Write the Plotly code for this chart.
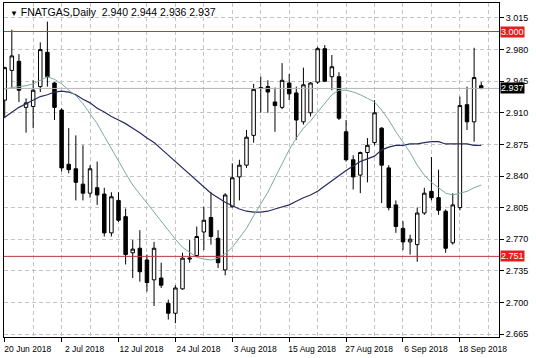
import plotly.graph_objects as go
import pandas as pd

symbol = "FNATGAS,Daily"
dates = pd.bdate_range("2018-06-20", "2018-09-21")

opens = [2.924, 2.957, 2.967, 2.916, 2.917, 2.939, 2.977, 2.943, 2.913, 2.853,
         2.848, 2.831, 2.821, 2.827, 2.820, 2.777, 2.813, 2.795, 2.755, 2.760,
         2.747, 2.725, 2.727, 2.699, 2.688, 2.715, 2.748, 2.752, 2.778, 2.794,
         2.771, 2.736, 2.806, 2.839, 2.852, 2.885, 2.937, 2.939, 2.922, 2.916,
         2.943, 2.932, 2.900, 2.910, 2.944, 2.981, 2.950, 2.950, 2.889, 2.858,
         2.841, 2.866, 2.877, 2.893, 2.849, 2.808, 2.782, 2.767, 2.764, 2.799,
         2.823, 2.816, 2.801, 2.766, 2.805, 2.919, 2.900, 2.940]
highs = [2.961, 3.002, 2.975, 2.926, 2.946, 2.988, 3.011, 2.944, 2.915, 2.893,
         2.885, 2.874, 2.852, 2.856, 2.827, 2.822, 2.822, 2.804, 2.769, 2.780,
         2.753, 2.767, 2.744, 2.703, 2.719, 2.755, 2.769, 2.784, 2.806, 2.822,
         2.780, 2.821, 2.854, 2.858, 2.891, 2.942, 2.950, 2.946, 2.938, 2.965,
         2.953, 2.939, 2.960, 2.944, 2.983, 2.985, 2.974, 2.955, 2.902, 2.863,
         2.867, 2.882, 2.924, 2.894, 2.852, 2.813, 2.790, 2.775, 2.805, 2.827,
         2.861, 2.847, 2.803, 2.821, 2.928, 2.939, 2.982, 2.944]
lows = [2.904, 2.938, 2.922, 2.888, 2.893, 2.933, 2.939, 2.902, 2.845, 2.843,
        2.813, 2.813, 2.816, 2.808, 2.773, 2.773, 2.789, 2.742, 2.727, 2.723,
        2.712, 2.696, 2.716, 2.681, 2.677, 2.714, 2.744, 2.750, 2.758, 2.764,
        2.738, 2.730, 2.805, 2.813, 2.849, 2.877, 2.910, 2.910, 2.889, 2.914,
        2.924, 2.880, 2.897, 2.906, 2.942, 2.944, 2.935, 2.902, 2.856, 2.825,
        2.821, 2.833, 2.874, 2.810, 2.802, 2.777, 2.758, 2.753, 2.745, 2.797,
        2.813, 2.797, 2.755, 2.764, 2.802, 2.891, 2.878, 2.936]
closes = [2.960, 2.973, 2.935, 2.921, 2.935, 2.980, 2.950, 2.916, 2.849, 2.847,
          2.833, 2.821, 2.848, 2.819, 2.777, 2.817, 2.791, 2.753, 2.759, 2.734,
          2.722, 2.760, 2.719, 2.688, 2.716, 2.749, 2.749, 2.773, 2.791, 2.773,
          2.744, 2.819, 2.838, 2.852, 2.883, 2.936, 2.938, 2.933, 2.918, 2.946,
          2.931, 2.902, 2.941, 2.943, 2.981, 2.945, 2.961, 2.904, 2.858, 2.839,
          2.866, 2.874, 2.910, 2.852, 2.805, 2.784, 2.767, 2.770, 2.799, 2.821,
          2.816, 2.802, 2.760, 2.808, 2.918, 2.900, 2.949, 2.937]

ma_fast = [2.936, 2.938, 2.939, 2.940, 2.942, 2.946, 2.950, 2.947, 2.942, 2.935,
           2.929, 2.920, 2.909, 2.898, 2.884, 2.870, 2.857, 2.843, 2.830, 2.820,
           2.810, 2.799, 2.789, 2.780, 2.770, 2.761, 2.755, 2.750, 2.748, 2.747,
           2.749, 2.754, 2.761, 2.771, 2.782, 2.796, 2.809, 2.822, 2.838, 2.854,
           2.869, 2.882, 2.893, 2.901, 2.911, 2.920, 2.930, 2.935, 2.935, 2.933,
           2.930, 2.926, 2.922, 2.913, 2.902, 2.889, 2.877, 2.866, 2.852, 2.841,
           2.833, 2.827, 2.821, 2.819, 2.821, 2.823, 2.827, 2.830]
ma_slow = [2.905, 2.911, 2.916, 2.920, 2.924, 2.928, 2.930, 2.933, 2.934, 2.933,
           2.930, 2.925, 2.921, 2.915, 2.911, 2.906, 2.902, 2.898, 2.893, 2.888,
           2.882, 2.877, 2.870, 2.863, 2.856, 2.849, 2.842, 2.835, 2.828, 2.821,
           2.816, 2.811, 2.807, 2.8035, 2.801, 2.800, 2.800, 2.801, 2.8035, 2.806,
           2.808, 2.812, 2.816, 2.819, 2.823, 2.829, 2.835, 2.840, 2.846, 2.851,
           2.856, 2.859, 2.862, 2.869, 2.872, 2.874, 2.874, 2.8755, 2.8755, 2.877,
           2.878, 2.878, 2.8755, 2.8755, 2.8755, 2.8755, 2.874, 2.874]

levels = [3.000, 2.751]
last_price = closes[-1]
y_ticks = [2.665, 2.700, 2.735, 2.770, 2.805, 2.840, 2.875, 2.910, 2.945, 2.980, 3.015]
label_every = 8
grid_every = 4

FONT = "Liberation Sans, Arial, sans-serif"
GRID = "#c4c4c4"

x = list(range(len(dates)))
tickvals = x[::label_every]
ticktext = [f"{d.day} {d.strftime('%b %Y')}" for d in dates[::label_every]]

fig = go.Figure()
fig.add_trace(go.Candlestick(
    x=x, open=opens, high=highs, low=lows, close=closes,
    increasing=dict(line=dict(color="black", width=1), fillcolor="white"),
    decreasing=dict(line=dict(color="black", width=1), fillcolor="black"),
    whiskerwidth=0, showlegend=False, hoverinfo="skip"))
fig.add_trace(go.Scatter(x=x, y=ma_slow, mode="lines",
                         line=dict(color="#262a5e", width=1.2), hoverinfo="skip"))
fig.add_trace(go.Scatter(x=x, y=ma_fast, mode="lines",
                         line=dict(color="#7aab9b", width=1), hoverinfo="skip"))

shapes = []
for lv in levels:
    shapes.append(dict(type="line", xref="paper", x0=0, x1=1, yref="y", y0=lv, y1=lv,
                       line=dict(color="#b83a3a", width=1)))
shapes.append(dict(type="line", xref="paper", x0=0, x1=1, yref="y", y0=last_price, y1=last_price,
                   line=dict(color="#b4b4b4", width=1)))

annotations = []
for lv in levels:
    annotations.append(dict(xref="paper", x=1, xanchor="left", xshift=1, yref="y", y=lv,
                            text=f"{lv:.3f}", showarrow=False, bgcolor="#e41e1e",
                            font=dict(color="white", size=9, family=FONT), borderpad=0))
annotations.append(dict(xref="paper", x=1, xanchor="left", xshift=1, yref="y", y=last_price,
                        text=f"{last_price:.3f}", showarrow=False, bgcolor="black",
                        font=dict(color="white", size=9, family=FONT), borderpad=0))
header = (f"<span style='font-size:8px'>▼</span> {symbol}  "
          f"{opens[-1]:.3f} {highs[-1]:.3f} {lows[-1]:.3f} {closes[-1]:.3f}")
annotations.append(dict(xref="paper", x=0, xanchor="left", xshift=4, yref="paper", y=1,
                        yanchor="top", yshift=-1, text=header, showarrow=False,
                        font=dict(color="black", size=10.5, family=FONT)))

fig.update_layout(
    width=536, height=358,
    margin=dict(l=4, r=37, t=3, b=21, autoexpand=False),
    paper_bgcolor="white", plot_bgcolor="white",
    font=dict(family=FONT, size=9, color="black"),
    showlegend=False,
    shapes=shapes, annotations=annotations,
    xaxis=dict(range=[-0.1, 69.5], tickmode="array", tickvals=tickvals, ticktext=ticktext,
               tickangle=0, tickfont=dict(size=8.5), automargin=False,
               ticks="outside", ticklen=4, tickcolor="black", ticklabelshift=23,
               showgrid=True, gridcolor=GRID, griddash="4px,3px", gridwidth=1,
               minor=dict(tickmode="linear", tick0=0, dtick=grid_every, showgrid=True,
                          gridcolor=GRID, griddash="4px,3px", gridwidth=1, ticks=""),
               showline=True, linecolor="black", linewidth=1, mirror=True,
               zeroline=False, rangeslider=dict(visible=False)),
    yaxis=dict(side="right", range=[2.6617, 3.0316], tickmode="array", tickvals=y_ticks,
               tickformat=".3f", ticks="outside", ticklen=4, tickcolor="black", automargin=False,
               showgrid=True, gridcolor=GRID, griddash="4px,3px", gridwidth=1,
               showline=True, linecolor="black", linewidth=1, mirror=True, zeroline=False),
)

fig.write_html("out.html", config={"displayModeBar": False},
               post_script="document.body.style.margin='0';document.body.style.overflow='hidden';")
